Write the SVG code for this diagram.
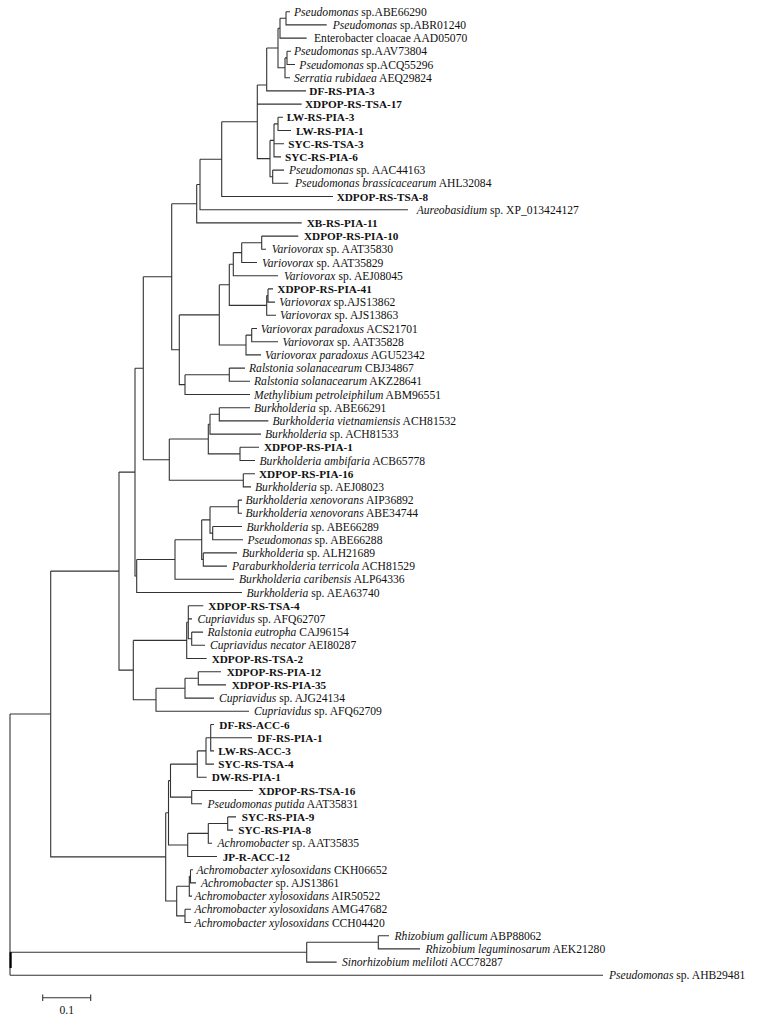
<svg xmlns="http://www.w3.org/2000/svg" width="763" height="1017" viewBox="0 0 763 1017">
<style>
.e{fill:none;stroke:#333;stroke-width:1.1}
.t{font-family:"Liberation Serif","Times New Roman",serif;font-size:11.6px;fill:#111}
.b{font-family:"Liberation Serif","Times New Roman",serif;font-size:11.2px;font-weight:bold;fill:#111}
.i{font-style:italic}
</style>
<rect width="763" height="1017" fill="#fff"/>
<g id="connectors">
<path class="e" d="M10,714V975.3M10,714H50.7M10,952.2H306.7M10,975.3H603"/>
<path d="M10.6,952.2V968" stroke="#000" stroke-width="2.2"/>
<path class="e" d="M306.7,942.3V962.1H336.7M306.7,942.3H378.3M378.3,935.7V948.9H420M378.3,935.7H389"/>
<path class="e" d="M50.7,571.1V856.9H165.7M50.7,571.1H119M119,472.1V670.1H133.3M119,472.1H135M135,368.2V576H136.7M135,368.2H143.3M143.3,276.7V459.7H169.3M143.3,276.7H171.7M171.7,203.7V349.8H179.3M171.7,203.7H196.7"/>
<path class="e" d="M196.7,184.5V222.9H301.7M196.7,184.5H200M200,159.2V209.7H408M200,159.2H221.7M221.7,121.8V196.5H333M221.7,121.8H257.3M257.3,85V158.6H270M257.3,85H266.7M257.3,104.1H301.7"/>
<path class="e" d="M266.7,48V90.9H306M266.7,48H278M278,28.2V67.8H285M278,28.2H280M280,18.3V38.1H306.7M280,18.3H286M286,11.7V24.9H326.7M286,11.7H290M285,57.9V77.7H290M285,57.9H287M287,51.3V64.5H295M287,51.3H291"/>
<path class="e" d="M270,140.4V176.7H272.7M270,140.4H274M274,123.9V156.9H281M274,123.9H278M274,143.7H284M278,117.3V130.5H291M278,117.3H283M272.7,170.1V183.3H288.3M272.7,170.1H284"/>
<path class="e" d="M179.3,314.9V384.6H185M179.3,314.9H219.3M219.3,284.8V345H246M219.3,284.8H229.3M229.3,264.2V305.4H266.7M229.3,264.2H233.3M233.3,252.6V275.7H278M233.3,252.6H241.7M241.7,242.7V262.5H257M241.7,242.7H261.7M261.7,236.1V249.3H266M261.7,236.1H298.3"/>
<path class="e" d="M266.7,295.5V315.3H276M266.7,295.5H268M268,288.9V302.1H275M268,288.9H273M246,335.1V354.9H261M246,335.1H251.7M251.7,328.5V341.7H278M251.7,328.5H257M185,374.7V394.5H250M185,374.7H229.3M229.3,368.1V381.3H250M229.3,368.1H245"/>
<path class="e" d="M169.3,439V480.3H243.3M169.3,439H208.3M208.3,424.2V453.9H240M208.3,424.2H210M210,414.3V434.1H261M210,414.3H219.3M219.3,407.7V420.9H268.3M219.3,407.7H250M240,447.3V460.5H255M240,447.3H259M243.3,473.7V486.9H251M243.3,473.7H255"/>
<path class="e" d="M136.7,559.5V592.5H242M136.7,559.5H175M175,539.7V579.3H234M175,539.7H201.7M201.7,519.9V559.5H203.3M201.7,519.9H210M203.3,552.9V566.1H227M203.3,552.9H237M210,506.7V533.1H212.7M210,506.7H238.3M238.3,500.1V513.3H242M238.3,500.1H242M212.7,526.5V539.7H243M212.7,526.5H242"/>
<path class="e" d="M133.3,640.4V699.8H156M133.3,640.4H186.7M186.7,622.2V658.5H206.7M186.7,622.2H188.3M188.3,605.7V638.7H191.7M188.3,605.7H203.3M188.3,618.9H192M191.7,632.1V645.3H205M191.7,632.1H203M156,688.2V711.3H249M156,688.2H185M185,678.3V698.1H214M185,678.3H198.3M198.3,671.7V684.9H226M198.3,671.7H221"/>
<path class="e" d="M165.7,812.8V901H176.7M165.7,812.8H168.5M168.5,780.6V845H187.7M168.5,780.6H170.5M170.5,764.1V797.1H191.7M170.5,764.1H197.3M197.3,750.9V777.3H206.7M197.3,750.9H206M206,737.7V764.1H214M206,737.7H210.7M210.7,724.5V750.9H214M210.7,724.5H214M210.7,737.7H252"/>
<path class="e" d="M191.7,790.5V803.7H202M191.7,790.5H253M187.7,833.4V856.5H217M187.7,833.4H208.3M208.3,823.5V843.3H212M208.3,823.5H227.7M227.7,816.9V830.1H233M227.7,816.9H236"/>
<path class="e" d="M176.7,886.2V915.9H185M176.7,886.2H189.3M189.3,876.3V896.1H192M189.3,876.3H190.5M190.5,869.7V882.9H196M190.5,869.7H193M185,909.3V922.5H191M185,909.3H191"/>
</g>
<g id="scale-bar">
<path class="e" d="M42.7,997.7H90.7M42.7,994.5V1001M90.7,994.5V1001"/>
<text class="t" x="66.7" y="1014" text-anchor="middle">0.1</text>
</g>
<g id="leaf-ABE66290"><text class="t" x="294" y="15.7"><tspan class="i">Pseudomonas</tspan> sp.ABE66290</text></g>
<g id="leaf-ABR01240"><text class="t" x="332.7" y="28.9"><tspan class="i">Pseudomonas</tspan> sp.ABR01240</text></g>
<g id="leaf-AAD05070"><text class="t" x="314" y="42.1">Enterobacter cloacae AAD05070</text></g>
<g id="leaf-AAV73804"><text class="t" x="294" y="55.3"><tspan class="i">Pseudomonas</tspan> sp.AAV73804</text></g>
<g id="leaf-ACQ55296"><text class="t" x="299.3" y="68.5"><tspan class="i">Pseudomonas</tspan> sp.ACQ55296</text></g>
<g id="leaf-AEQ29824"><text class="t" x="294" y="81.7"><tspan class="i">Serratia rubidaea</tspan> AEQ29824</text></g>
<g id="leaf-DF-RS-PIA-3"><text class="b" x="309.3" y="94.9">DF-RS-PIA-3</text></g>
<g id="leaf-XDPOP-RS-TSA-17"><text class="b" x="305" y="108.1">XDPOP-RS-TSA-17</text></g>
<g id="leaf-LW-RS-PIA-3"><text class="b" x="286.7" y="121.3">LW-RS-PIA-3</text></g>
<g id="leaf-LW-RS-PIA-1"><text class="b" x="296" y="134.5">LW-RS-PIA-1</text></g>
<g id="leaf-SYC-RS-TSA-3"><text class="b" x="288.3" y="147.7">SYC-RS-TSA-3</text></g>
<g id="leaf-SYC-RS-PIA-6"><text class="b" x="285" y="160.9">SYC-RS-PIA-6</text></g>
<g id="leaf-AAC44163"><text class="t" x="289" y="174.1"><tspan class="i">Pseudomonas</tspan> sp. AAC44163</text></g>
<g id="leaf-AHL32084"><text class="t" x="295" y="187.3"><tspan class="i">Pseudomonas brassicacearum</tspan> AHL32084</text></g>
<g id="leaf-XDPOP-RS-TSA-8"><text class="b" x="336.7" y="200.5">XDPOP-RS-TSA-8</text></g>
<g id="leaf-XP_013424127"><text class="t" x="416.7" y="213.7"><tspan class="i">Aureobasidium</tspan> sp.  XP_013424127</text></g>
<g id="leaf-XB-RS-PIA-11"><text class="b" x="306.7" y="226.9">XB-RS-PIA-11</text></g>
<g id="leaf-XDPOP-RS-PIA-10"><text class="b" x="304" y="240.1">XDPOP-RS-PIA-10</text></g>
<g id="leaf-AAT35830"><text class="t" x="271.7" y="253.3"><tspan class="i">Variovorax</tspan> sp.  AAT35830</text></g>
<g id="leaf-AAT35829"><text class="t" x="262" y="266.5"><tspan class="i">Variovorax</tspan> sp.  AAT35829</text></g>
<g id="leaf-AEJ08045"><text class="t" x="284" y="279.7"><tspan class="i">Variovorax</tspan> sp.  AEJ08045</text></g>
<g id="leaf-XDPOP-RS-PIA-41"><text class="b" x="277.3" y="292.9">XDPOP-RS-PIA-41</text></g>
<g id="leaf-AJS13862"><text class="t" x="279.3" y="306.1"><tspan class="i">Variovorax</tspan> sp.AJS13862</text></g>
<g id="leaf-AJS13863"><text class="t" x="280" y="319.3"><tspan class="i">Variovorax</tspan> sp.  AJS13863</text></g>
<g id="leaf-ACS21701"><text class="t" x="260.7" y="332.5"><tspan class="i">Variovorax paradoxus</tspan> ACS21701</text></g>
<g id="leaf-AAT35828"><text class="t" x="282.5" y="345.7"><tspan class="i">Variovorax</tspan> sp.  AAT35828</text></g>
<g id="leaf-AGU52342"><text class="t" x="265" y="358.9"><tspan class="i">Variovorax paradoxus</tspan> AGU52342</text></g>
<g id="leaf-CBJ34867"><text class="t" x="249" y="372.1"><tspan class="i">Ralstonia solanacearum</tspan> CBJ34867</text></g>
<g id="leaf-AKZ28641"><text class="t" x="254" y="385.3"><tspan class="i">Ralstonia solanacearum</tspan> AKZ28641</text></g>
<g id="leaf-ABM96551"><text class="t" x="254" y="398.5"><tspan class="i">Methylibium petroleiphilum</tspan> ABM96551</text></g>
<g id="leaf-ABE66291"><text class="t" x="254" y="411.7"><tspan class="i">Burkholderia</tspan> sp.  ABE66291</text></g>
<g id="leaf-ACH81532"><text class="t" x="272.5" y="424.9"><tspan class="i">Burkholderia vietnamiensis</tspan> ACH81532</text></g>
<g id="leaf-ACH81533"><text class="t" x="265" y="438.1"><tspan class="i">Burkholderia</tspan> sp.  ACH81533</text></g>
<g id="leaf-XDPOP-RS-PIA-1"><text class="b" x="264" y="451.3">XDPOP-RS-PIA-1</text></g>
<g id="leaf-ACB65778"><text class="t" x="259.5" y="464.5"><tspan class="i">Burkholderia ambifaria</tspan> ACB65778</text></g>
<g id="leaf-XDPOP-RS-PIA-16"><text class="b" x="259" y="477.7">XDPOP-RS-PIA-16</text></g>
<g id="leaf-AEJ08023"><text class="t" x="255" y="490.9"><tspan class="i">Burkholderia</tspan> sp.  AEJ08023</text></g>
<g id="leaf-AIP36892"><text class="t" x="245.5" y="504.1"><tspan class="i">Burkholderia xenovorans</tspan> AIP36892</text></g>
<g id="leaf-ABE34744"><text class="t" x="245.5" y="517.3"><tspan class="i">Burkholderia xenovorans</tspan> ABE34744</text></g>
<g id="leaf-ABE66289"><text class="t" x="246.5" y="530.5"><tspan class="i">Burkholderia</tspan> sp.  ABE66289</text></g>
<g id="leaf-ABE66288"><text class="t" x="247.5" y="543.7"><tspan class="i">Pseudomonas</tspan> sp.  ABE66288</text></g>
<g id="leaf-ALH21689"><text class="t" x="242" y="556.9"><tspan class="i">Burkholderia</tspan> sp.  ALH21689</text></g>
<g id="leaf-ACH81529"><text class="t" x="232" y="570.1"><tspan class="i">Paraburkholderia terricola</tspan> ACH81529</text></g>
<g id="leaf-ALP64336"><text class="t" x="239" y="583.3"><tspan class="i">Burkholderia caribensis</tspan> ALP64336</text></g>
<g id="leaf-AEA63740"><text class="t" x="246.5" y="596.5"><tspan class="i">Burkholderia</tspan> sp.  AEA63740</text></g>
<g id="leaf-XDPOP-RS-TSA-4"><text class="b" x="208.3" y="609.7">XDPOP-RS-TSA-4</text></g>
<g id="leaf-AFQ62707"><text class="t" x="197.5" y="622.9"><tspan class="i">Cupriavidus</tspan> sp.  AFQ62707</text></g>
<g id="leaf-CAJ96154"><text class="t" x="207.5" y="636.1"><tspan class="i">Ralstonia eutropha</tspan> CAJ96154</text></g>
<g id="leaf-AEI80287"><text class="t" x="210" y="649.3"><tspan class="i">Cupriavidus necator</tspan> AEI80287</text></g>
<g id="leaf-XDPOP-RS-TSA-2"><text class="b" x="211.7" y="662.5">XDPOP-RS-TSA-2</text></g>
<g id="leaf-XDPOP-RS-PIA-12"><text class="b" x="226.7" y="675.7">XDPOP-RS-PIA-12</text></g>
<g id="leaf-XDPOP-RS-PIA-35"><text class="b" x="231.7" y="688.9">XDPOP-RS-PIA-35</text></g>
<g id="leaf-AJG24134"><text class="t" x="219" y="702.1"><tspan class="i">Cupriavidus</tspan> sp.  AJG24134</text></g>
<g id="leaf-AFQ62709"><text class="t" x="254" y="715.3"><tspan class="i">Cupriavidus</tspan> sp.  AFQ62709</text></g>
<g id="leaf-DF-RS-ACC-6"><text class="b" x="219.3" y="728.5">DF-RS-ACC-6</text></g>
<g id="leaf-DF-RS-PIA-1"><text class="b" x="257.3" y="741.7">DF-RS-PIA-1</text></g>
<g id="leaf-LW-RS-ACC-3"><text class="b" x="218.3" y="754.9">LW-RS-ACC-3</text></g>
<g id="leaf-SYC-RS-TSA-4"><text class="b" x="218.3" y="768.1">SYC-RS-TSA-4</text></g>
<g id="leaf-DW-RS-PIA-1"><text class="b" x="211.7" y="781.3">DW-RS-PIA-1</text></g>
<g id="leaf-XDPOP-RS-TSA-16"><text class="b" x="258.3" y="794.5">XDPOP-RS-TSA-16</text></g>
<g id="leaf-AAT35831"><text class="t" x="207.5" y="807.7"><tspan class="i">Pseudomonas putida</tspan> AAT35831</text></g>
<g id="leaf-SYC-RS-PIA-9"><text class="b" x="241.7" y="820.9">SYC-RS-PIA-9</text></g>
<g id="leaf-SYC-RS-PIA-8"><text class="b" x="238.3" y="834.1">SYC-RS-PIA-8</text></g>
<g id="leaf-AAT35835"><text class="t" x="217.5" y="847.3"><tspan class="i">Achromobacter</tspan> sp.  AAT35835</text></g>
<g id="leaf-JP-R-ACC-12"><text class="b" x="222.7" y="860.5">JP-R-ACC-12</text></g>
<g id="leaf-CKH06652"><text class="t" x="196.5" y="873.7"><tspan class="i">Achromobacter xylosoxidans</tspan> CKH06652</text></g>
<g id="leaf-AJS13861"><text class="t" x="201" y="886.9"><tspan class="i">Achromobacter</tspan> sp.  AJS13861</text></g>
<g id="leaf-AIR50522"><text class="t" x="194.5" y="900.1"><tspan class="i">Achromobacter xylosoxidans</tspan> AIR50522</text></g>
<g id="leaf-AMG47682"><text class="t" x="194.5" y="913.3"><tspan class="i">Achromobacter xylosoxidans</tspan> AMG47682</text></g>
<g id="leaf-CCH04420"><text class="t" x="194.5" y="926.5"><tspan class="i">Achromobacter xylosoxidans</tspan> CCH04420</text></g>
<g id="leaf-ABP88062"><text class="t" x="394.5" y="939.7"><tspan class="i">Rhizobium gallicum</tspan> ABP88062</text></g>
<g id="leaf-AEK21280"><text class="t" x="425.5" y="952.9"><tspan class="i">Rhizobium leguminosarum</tspan> AEK21280</text></g>
<g id="leaf-ACC78287"><text class="t" x="342" y="966.1"><tspan class="i">Sinorhizobium meliloti</tspan> ACC78287</text></g>
<g id="leaf-AHB29481"><text class="t" x="609" y="979.3"><tspan class="i">Pseudomonas</tspan> sp. AHB29481</text></g>
</svg>
